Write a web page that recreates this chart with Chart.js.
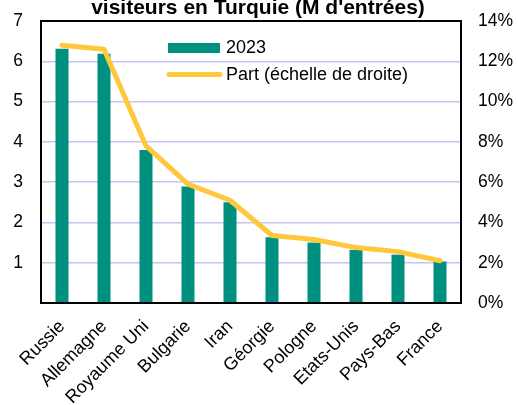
<!DOCTYPE html>
<html>
<head>
<meta charset="utf-8">
<script src="https://cdn.jsdelivr.net/npm/chart.js@4"></script>
<style>
  html, body { margin: 0; padding: 0; background: #fff; }
  #wrap { position: relative; width: 518px; height: 405px; }
</style>
</head>
<body>
<div id="wrap"><canvas id="chart" width="518" height="405"></canvas></div>
<script>
// Data
const countries = ['Russie', 'Allemagne', 'Royaume Uni', 'Bulgarie', 'Iran', 'Géorgie', 'Pologne', 'Etats-Unis', 'Pays-Bas', 'France'];
const visitors2023 = [6.31, 6.19, 3.80, 2.89, 2.50, 1.63, 1.50, 1.32, 1.20, 1.03];
const sharePct = [12.8, 12.6, 7.8, 5.9, 5.1, 3.35, 3.15, 2.75, 2.55, 2.1];
const leftTicks = [0, 1, 2, 3, 4, 5, 6, 7];
const rightTicks = [0, 2, 4, 6, 8, 10, 12, 14];

const FONT = "'Liberation Sans', Arial, sans-serif";
const GREEN = '#009080';
const YELLOW = '#FFC83C';

const ctx = document.getElementById('chart').getContext('2d');

// title (the top line is cut off in the original) + legend + frame
const decor = {
    id: 'decor',
    afterDraw(chart) {
        const c = chart.ctx;
        const a = chart.chartArea;
        c.save();
        // frame
        c.strokeStyle = '#000';
        c.lineWidth = 2;
        c.strokeRect(a.left, a.top, a.right - a.left, a.bottom - a.top);
        // title
        c.fillStyle = '#000';
        c.font = 'bold 21px ' + FONT;
        c.textAlign = 'center';
        c.textBaseline = 'alphabetic';
        c.fillText("visiteurs en Turquie (M d'entrées)", 258, 14);
        // legend
        c.font = '18px ' + FONT;
        c.textAlign = 'left';
        c.textBaseline = 'middle';
        c.fillStyle = GREEN;
        c.fillRect(168, 43, 52, 10);
        c.fillStyle = '#000';
        c.fillText('2023', 226, 48);
        c.strokeStyle = YELLOW;
        c.lineWidth = 5;
        c.lineCap = 'round';
        c.beginPath();
        c.moveTo(169, 74.5);
        c.lineTo(220, 74.5);
        c.stroke();
        c.fillText('Part (échelle de droite)', 226, 75);
        c.restore();
    }
};

new Chart(ctx, {
    type: 'bar',
    data: {
        labels: countries,
        datasets: [
            {
                type: 'line',
                label: 'Part (échelle de droite)',
                data: sharePct,
                yAxisID: 'y2',
                borderColor: YELLOW,
                borderWidth: 5,
                borderCapStyle: 'round',
                borderJoinStyle: 'round',
                pointRadius: 0,
                tension: 0,
                order: 0
            },
            {
                label: '2023',
                data: visitors2023,
                yAxisID: 'y',
                backgroundColor: GREEN,
                borderWidth: 0,
                categoryPercentage: 1,
                barPercentage: 0.31,
                order: 1
            }
        ]
    },
    options: {
        responsive: false,
        animation: false,
        layout: { padding: { top: 21, left: 0, right: 0, bottom: 0 } },
        plugins: { legend: { display: false }, tooltip: { enabled: false }, title: { display: false } },
        scales: {
            x: {
                grid: { display: false, drawTicks: false },
                border: { display: false },
                afterFit(s) { s.height = 102; },
                ticks: {
                    color: '#000',
                    font: { family: FONT, size: 18 },
                    minRotation: 45,
                    maxRotation: 45,
                    padding: 13,
                    autoSkip: false
                }
            },
            y: {
                position: 'left',
                min: 0,
                max: 7,
                afterFit(s) { s.width = 41; },
                afterBuildTicks(s) { s.ticks = leftTicks.map(v => ({ value: v })); },
                grid: {
                    color: ctx2 => (ctx2.tick && (ctx2.tick.value === 0 || ctx2.tick.value === 7)) ? 'rgba(0,0,0,0)' : '#C4C4F6',
                    lineWidth: 1.5,
                    drawTicks: true,
                    tickLength: 18,
                    tickColor: 'rgba(0,0,0,0)'
                },
                border: { display: false },
                ticks: {
                    color: '#000',
                    font: { family: FONT, size: 17.5 },
                    padding: 0,
                    callback: v => v === 0 ? '' : String(v)
                }
            },
            y2: {
                position: 'right',
                min: 0,
                max: 14,
                afterFit(s) { s.width = 57; },
                afterBuildTicks(s) { s.ticks = rightTicks.map(v => ({ value: v })); },
                grid: { display: false, drawTicks: true, tickLength: 17 },
                border: { display: false },
                ticks: {
                    color: '#000',
                    font: { family: FONT, size: 17.5 },
                    padding: 0,
                    callback: v => v + '%'
                }
            }
        }
    },
    plugins: [decor]
});
</script>
</body>
</html>
